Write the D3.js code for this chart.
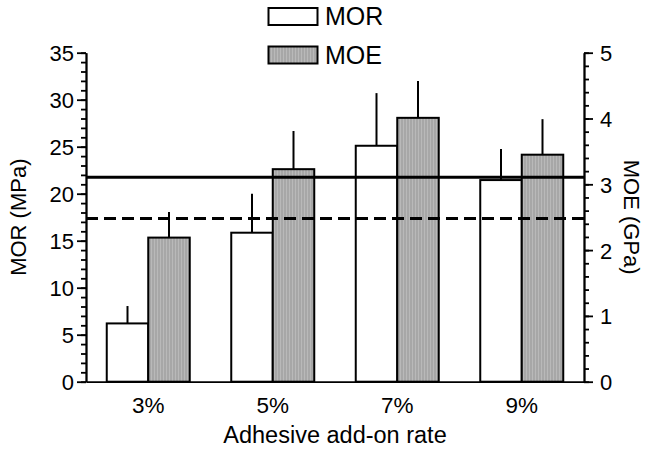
<!DOCTYPE html>
<html>
<head>
<meta charset="utf-8">
<script src="https://cdn.jsdelivr.net/npm/d3@7"></script>
<style>
  html, body { margin: 0; padding: 0; background: #fff; }
  svg text { font-family: "Liberation Sans", Arial, sans-serif; fill: #000; }
</style>
</head>
<body>
<svg id="chart" width="649" height="450"></svg>
<script>
// Adhesive add-on rate vs. bending properties
const categories = ["3%", "5%", "7%", "9%"];
const morValues = [6.2, 15.85, 25.1, 21.45];      // MPa
const morErrors = [1.85, 4.15, 5.6, 3.3];
const moeValues = [2.19, 3.23, 4.01, 3.45];       // GPa
const moeErrors = [0.39, 0.58, 0.56, 0.54];
const morTicks = [0, 5, 10, 15, 20, 25, 30, 35];
const moeTicks = [0, 1, 2, 3, 4, 5];
const refMOR = 21.75;   // solid reference line (MPa)
const refMOE = 2.48;    // dashed reference line (GPa)

const svg = d3.select("#chart");
const plotLeft = 86, plotRight = 584, plotTop = 52.7, plotBottom = 381.7;
const FONT = "'Liberation Sans', Arial, sans-serif";

const x = d3.scaleBand().domain(categories).range([plotLeft, plotRight]).paddingInner(0).paddingOuter(0);
const yL = d3.scaleLinear().domain([0, 35]).range([plotBottom, plotTop]);
const yR = d3.scaleLinear().domain([0, 5]).range([plotBottom, plotTop]);

// striped grey fill for MOE bars
const defs = svg.append("defs");
const pat = defs.append("pattern").attr("id", "stripes")
  .attr("patternUnits", "userSpaceOnUse").attr("width", 3).attr("height", 10);
pat.append("rect").attr("width", 3).attr("height", 10).attr("fill", "#a7a7a7");
pat.append("rect").attr("x", 1).attr("width", 1).attr("height", 10).attr("fill", "#b9b9b9");

const barW = x.bandwidth() / 3;
const cx = d => x(d) + x.bandwidth() / 2;

const g = svg.append("g");

// MOR bars (white)
g.selectAll(".mor").data(categories).join("rect")
  .attr("x", d => cx(d) - barW)
  .attr("y", (d, i) => yL(morValues[i]))
  .attr("width", barW)
  .attr("height", (d, i) => plotBottom - yL(morValues[i]))
  .attr("fill", "#fff").attr("stroke", "#000").attr("stroke-width", 2);

// MOE bars (striped grey)
g.selectAll(".moe").data(categories).join("rect")
  .attr("x", d => cx(d))
  .attr("y", (d, i) => yR(moeValues[i]))
  .attr("width", barW)
  .attr("height", (d, i) => plotBottom - yR(moeValues[i]))
  .attr("fill", "url(#stripes)").attr("stroke", "#000").attr("stroke-width", 2);

// upper error bars
g.selectAll(".morErr").data(categories).join("line")
  .attr("x1", d => cx(d) - barW / 2).attr("x2", d => cx(d) - barW / 2)
  .attr("y1", (d, i) => yL(morValues[i])).attr("y2", (d, i) => yL(morValues[i] + morErrors[i]))
  .attr("stroke", "#000").attr("stroke-width", 2);
g.selectAll(".moeErr").data(categories).join("line")
  .attr("x1", d => cx(d) + barW / 2).attr("x2", d => cx(d) + barW / 2)
  .attr("y1", (d, i) => yR(moeValues[i])).attr("y2", (d, i) => yR(moeValues[i] + moeErrors[i]))
  .attr("stroke", "#000").attr("stroke-width", 2);

// reference lines
g.append("line").attr("x1", plotLeft).attr("x2", plotRight)
  .attr("y1", yL(refMOR)).attr("y2", yL(refMOR))
  .attr("stroke", "#000").attr("stroke-width", 3);
g.append("line").attr("x1", plotLeft).attr("x2", plotRight)
  .attr("y1", yR(refMOE)).attr("y2", yR(refMOE))
  .attr("stroke", "#000").attr("stroke-width", 3).attr("stroke-dasharray", "12,6");

// axes
function styleAxis(sel) {
  sel.selectAll("path, line").attr("stroke", "#000").attr("stroke-width", 1.8);
  sel.selectAll("text").attr("font-size", 22).attr("fill", "#000").attr("font-family", FONT);
}
const minorL = d3.range(0, 36);
svg.append("g").attr("transform", `translate(${plotLeft},0)`)
  .call(d3.axisLeft(yL).tickValues(minorL).tickSize(5).tickSizeOuter(0).tickFormat(""))
  .call(styleAxis);
svg.append("g").attr("transform", `translate(${plotLeft},0)`)
  .call(d3.axisLeft(yL).tickValues(morTicks).tickSize(9).tickSizeOuter(0).tickPadding(3).tickFormat(d3.format("d")))
  .call(styleAxis)
  .call(s => s.selectAll("text").attr("dy", "0.36em"));

const minorR = d3.range(0, 26).map(v => v / 5);
svg.append("g").attr("transform", `translate(${plotRight},0)`)
  .call(d3.axisRight(yR).tickValues(minorR).tickSize(5).tickSizeOuter(0).tickFormat(""))
  .call(styleAxis);
svg.append("g").attr("transform", `translate(${plotRight},0)`)
  .call(d3.axisRight(yR).tickValues(moeTicks).tickSize(9).tickSizeOuter(0).tickPadding(7).tickFormat(d3.format("d")))
  .call(styleAxis)
  .call(s => s.selectAll("text").attr("dy", "0.36em"));

svg.append("g").attr("transform", `translate(0,${plotBottom})`)
  .call(d3.axisBottom(x).tickSize(0).tickSizeOuter(0))
  .call(styleAxis)
  .call(s => s.selectAll("text").attr("y", 31.5).attr("dy", 0).attr("font-size", 22.5));

// axis titles
svg.append("text").attr("transform", `translate(${(plotLeft + plotRight) / 2},443)`)
  .attr("text-anchor", "middle").attr("font-size", 23.5).text("Adhesive add-on rate");
svg.append("text").attr("transform", `translate(26,${(plotTop + plotBottom) / 2}) rotate(-90)`)
  .attr("text-anchor", "middle").attr("font-size", 22).text("MOR (MPa)");
svg.append("text").attr("transform", `translate(624,${(plotTop + plotBottom) / 2}) rotate(90)`)
  .attr("text-anchor", "middle").attr("font-size", 22).text("MOE (GPa)");

// legend
const legend = [
  { label: "MOR", fill: "#fff" },
  { label: "MOE", fill: "url(#stripes)" }
];
const lg = svg.append("g");
lg.selectAll("rect").data(legend).join("rect")
  .attr("x", 268.5).attr("y", (d, i) => 8 + i * 38.5)
  .attr("width", 49).attr("height", 17)
  .attr("fill", d => d.fill).attr("stroke", "#000").attr("stroke-width", 2);
lg.selectAll("text").data(legend).join("text")
  .attr("x", 325).attr("y", (d, i) => 25 + i * 38.5)
  .attr("font-size", 25).text(d => d.label);
</script>
</body>
</html>
